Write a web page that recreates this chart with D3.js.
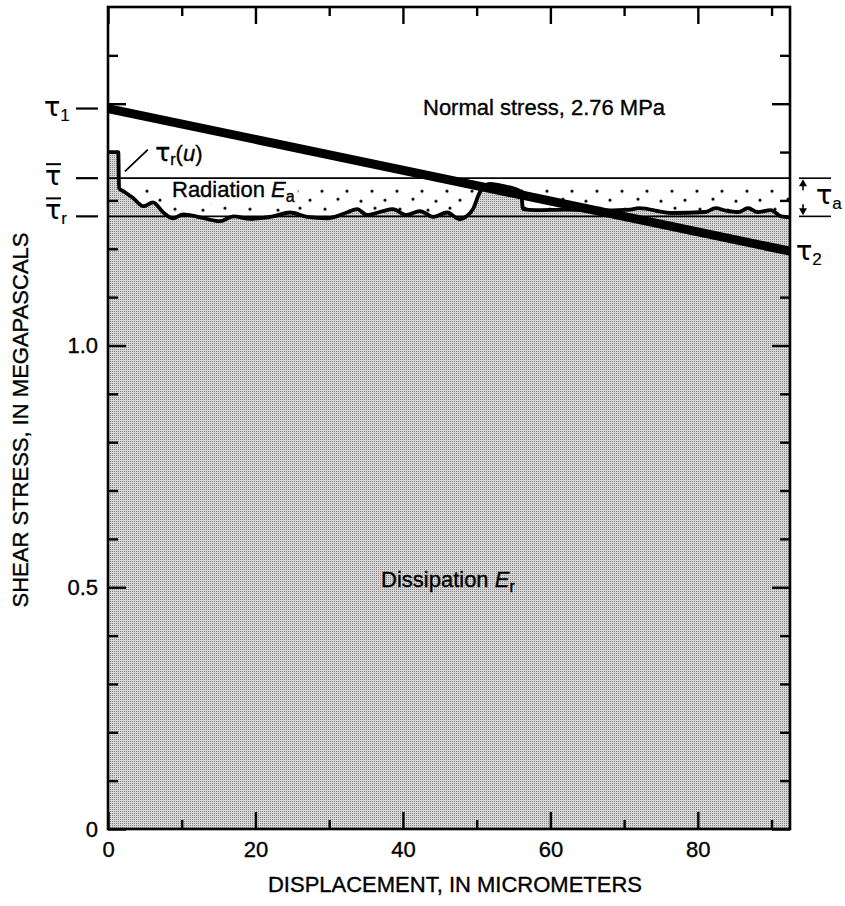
<!DOCTYPE html>
<html>
<head>
<meta charset="utf-8">
<script src="https://cdn.jsdelivr.net/npm/d3@7"></script>
<style>
  body { margin: 0; background: #fff; }
  text { font-family: "Liberation Sans", Arial, Helvetica, sans-serif; fill: #000; stroke: #000; stroke-width: 0.35px; }
  text.tau { font-family: "DejaVu Sans", sans-serif; stroke-width: 0.2px; }
</style>
</head>
<body>
<div id="chart"></div>
<script>
// Axis ticks
const xMajorTicks = [0, 20, 40, 60, 80];
const xMinorTicks = [10, 30, 50, 70, 90];
const yMajorTicks = [0, 0.5, 1.0, 1.5];
const yMinorTicks = [0.1, 0.2, 0.3, 0.4, 0.6, 0.7, 0.8, 0.9, 1.1, 1.2, 1.3, 1.4, 1.6];
const yLabelValues = [0, 0.5, 1.0];
const yLabelText = ["0", "0.5", "1.0"];
const xDomain = [0, 92.5];
const yDomain = [0, 1.70];

// Stress levels (MPa)
const tau1 = 1.49;
const tau2 = 1.195;
const tauBar = 1.346;
const tauBarR = 1.267;

// Normal-stress line (thick), endpoints
const normalX = [0, 92.5];
const normalY = [tau1, tau2];

// Frictional stress history tau_r(u)
const curveX = [0, 1.4, 1.5, 2.2, 3.4, 4.8, 6.1, 7.5, 8.8, 10.2, 12.5, 15.2, 17, 19.3, 22.4, 24.7, 27, 29.7,
  32.4, 33.8, 35.1, 37.3, 38.6, 40.5, 42.3, 44.1, 46, 47.7, 48.6, 49.5, 50.4, 51.8, 53.5, 56, 56.3,
  58, 62, 66, 70.8, 72, 76.5, 81, 82.4, 83.8, 85.5, 86.8, 88.1, 89.9, 91.3, 92.5];
const curveY = [1.40, 1.40, 1.325, 1.318, 1.305, 1.288, 1.296, 1.275, 1.263, 1.271, 1.265, 1.257, 1.267, 1.262,
  1.267, 1.275, 1.266, 1.263, 1.275, 1.282, 1.270, 1.278, 1.282, 1.270, 1.278, 1.266, 1.275, 1.261, 1.267,
  1.282, 1.316, 1.334, 1.330, 1.318, 1.282, 1.280, 1.281, 1.279, 1.281, 1.284, 1.274, 1.276, 1.284, 1.279,
  1.276, 1.284, 1.276, 1.280, 1.267, 1.265];

const margin = { top: 7, right: 55, bottom: 77, left: 108 };
const width = 845 - margin.left - margin.right;
const height = 906 - margin.top - margin.bottom;

const svg = d3.select("#chart").append("svg")
    .attr("width", 845)
    .attr("height", 906);

svg.append("rect").attr("width", 845).attr("height", 906).attr("fill", "#fff");

const defs = svg.append("defs");

// stipple texture for the dissipation area
const stip = defs.append("pattern")
    .attr("id", "stipple")
    .attr("patternUnits", "userSpaceOnUse")
    .attr("width", 2).attr("height", 2);
stip.append("rect").attr("width", 2).attr("height", 2).attr("fill", "#d8d8d8");
stip.append("rect").attr("width", 1).attr("height", 1).attr("fill", "#808080");

const g = svg.append("g")
    .attr("transform", `translate(${margin.left},${margin.top})`);

const x = d3.scaleLinear().domain(xDomain).range([0, width]);
const y = d3.scaleLinear().domain(yDomain).range([height, 0]);

// dots for the radiation band
const dotPat = defs.append("pattern")
    .attr("id", "dots")
    .attr("patternUnits", "userSpaceOnUse")
    .attr("x", margin.left).attr("y", margin.top + y(tauBar))
    .attr("width", 75).attr("height", 38);
[[6, 6], [31, 6], [56, 6], [19, 15], [47, 14], [70, 16], [34, 24], [62, 25], [9, 23]].forEach(p => {
  dotPat.append("circle").attr("cx", p[0]).attr("cy", p[1]).attr("r", 1.6).attr("fill", "#000");
});

g.append("rect")
    .attr("x", 0)
    .attr("y", y(tauBar))
    .attr("width", width)
    .attr("height", y(tauBarR) - y(tauBar))
    .attr("fill", "url(#dots)");

const curve = curveX.map((d, i) => ({ x: d, y: curveY[i] }));

// white patch behind the radiation label
const radBox = g.append("rect").attr("fill", "#fff");

// dissipation area under tau_r(u)
g.append("path")
    .datum(curve)
    .attr("fill", "url(#stipple)")
    .attr("d", d3.area().x(d => x(d.x)).y0(y(0)).y1(d => y(d.y)));

// level lines
[tauBar, tauBarR].forEach(v => {
  g.append("line")
      .attr("x1", 0).attr("x2", width)
      .attr("y1", y(v)).attr("y2", y(v))
      .attr("stroke", "#000").attr("stroke-width", 1.6);
});

// tau_r(u) curve
g.append("path")
    .datum(curve)
    .attr("fill", "none")
    .attr("stroke", "#000")
    .attr("stroke-width", 3.8)
    .attr("stroke-linejoin", "round")
    .attr("d", d3.line().x(d => x(d.x)).y(d => y(d.y)).curve(d3.curveMonotoneX));

// normal stress line
g.append("line")
    .attr("x1", x(normalX[0])).attr("y1", y(normalY[0]))
    .attr("x2", x(normalX[1])).attr("y2", y(normalY[1]))
    .attr("stroke", "#000").attr("stroke-width", 9);

// axes, ticks pointing inward on all four sides
function styleAxis(sel) {
  sel.select(".domain").remove();
  sel.selectAll(".tick line").attr("stroke", "#000").attr("stroke-width", 2.4);
  sel.selectAll(".tick text").style("font-size", "22px").attr("fill", "#000");
}

g.append("g").attr("transform", `translate(0,${height})`)
    .call(d3.axisBottom(x).tickValues(xMajorTicks).tickSize(-17).tickPadding(12).tickFormat(d3.format("d")))
    .call(styleAxis);
g.append("g").attr("transform", `translate(0,${height})`)
    .call(d3.axisBottom(x).tickValues(xMinorTicks).tickSize(-9).tickFormat(""))
    .call(styleAxis);
g.append("g")
    .call(d3.axisTop(x).tickValues(xMajorTicks).tickSize(-17).tickFormat(""))
    .call(styleAxis);
g.append("g")
    .call(d3.axisTop(x).tickValues(xMinorTicks).tickSize(-9).tickFormat(""))
    .call(styleAxis);

g.append("g")
    .call(d3.axisLeft(y).tickValues(yMajorTicks).tickSize(-18).tickPadding(10)
      .tickFormat(d => { const i = yLabelValues.indexOf(d); return i >= 0 ? yLabelText[i] : ""; }))
    .call(styleAxis);
g.append("g")
    .call(d3.axisLeft(y).tickValues(yMinorTicks).tickSize(-10).tickFormat(""))
    .call(styleAxis);
g.append("g").attr("transform", `translate(${width},0)`)
    .call(d3.axisRight(y).tickValues(yMajorTicks).tickSize(-18).tickFormat(""))
    .call(styleAxis);
g.append("g").attr("transform", `translate(${width},0)`)
    .call(d3.axisRight(y).tickValues(yMinorTicks).tickSize(-10).tickFormat(""))
    .call(styleAxis);

// frame
g.append("rect")
    .attr("width", width).attr("height", height)
    .attr("fill", "none").attr("stroke", "#000").attr("stroke-width", 2.6);

// axis titles
svg.append("text")
    .attr("x", 455).attr("y", 892)
    .attr("text-anchor", "middle")
    .style("font-size", "22px")
    .text("DISPLACEMENT, IN MICROMETERS");

svg.append("text")
    .attr("transform", "rotate(-90)")
    .attr("x", -420).attr("y", 28)
    .attr("text-anchor", "middle")
    .style("font-size", "22px")
    .text("SHEAR STRESS, IN MEGAPASCALS");

// level markers
function tauLabel(px, py, sub, bar) {
  const t = svg.append("text").attr("class", "tau").attr("x", px).attr("y", py).style("font-size", "27px");
  t.append("tspan").text("τ");
  if (sub) t.append("tspan").attr("dy", 5).style("font-family", "Liberation Sans, Arial, sans-serif")
      .style("font-size", "17px").text(sub);
  if (bar) {
    svg.append("line")
        .attr("x1", px + 1).attr("x2", px + 16)
        .attr("y1", py - 21).attr("y2", py - 21)
        .attr("stroke", "#000").attr("stroke-width", 2);
  }
}
[tau1, tauBar, tauBarR].forEach(v => {
  svg.append("line")
      .attr("x1", 76).attr("x2", 98)
      .attr("y1", margin.top + y(v)).attr("y2", margin.top + y(v))
      .attr("stroke", "#000").attr("stroke-width", 2.2);
});
tauLabel(44, margin.top + y(tau1) + 7, "1", false);
tauLabel(45, margin.top + y(tauBar) + 7, "", true);
tauLabel(45, margin.top + y(tauBarR) + 3, "r", true);

// right side: tau_2 and tau_a
tauLabel(796, margin.top + y(tau2) + 9, "2", false);

const xa = margin.left + width + 13;
const yTop = margin.top + y(tauBar);
const yBot = margin.top + y(tauBarR);
[yTop, yBot].forEach(v => {
  svg.append("line")
      .attr("x1", margin.left + width + 9).attr("x2", 831)
      .attr("y1", v).attr("y2", v)
      .attr("stroke", "#000").attr("stroke-width", 1.6);
});
svg.append("line").attr("x1", xa).attr("x2", xa).attr("y1", yTop + 4).attr("y2", yTop + 12)
    .attr("stroke", "#000").attr("stroke-width", 1.6);
svg.append("line").attr("x1", xa).attr("x2", xa).attr("y1", yBot - 12).attr("y2", yBot - 4)
    .attr("stroke", "#000").attr("stroke-width", 1.6);
svg.append("path").attr("d", `M${xa},${yTop + 1}L${xa - 4},${yTop + 8}L${xa + 4},${yTop + 8}Z`).attr("fill", "#000");
svg.append("path").attr("d", `M${xa},${yBot - 1}L${xa - 4},${yBot - 8}L${xa + 4},${yBot - 8}Z`).attr("fill", "#000");
tauLabel(816, (yTop + yBot) / 2 + 7, "a", false);

// annotations
g.append("text")
    .attr("x", 315).attr("y", 108)
    .style("font-size", "22px")
    .text("Normal stress, 2.76 MPa");

const rad = g.append("text")
    .attr("x", 64).attr("y", y(tauBar) + 19)
    .style("font-size", "22px");
rad.append("tspan").text("Radiation ");
rad.append("tspan").style("font-style", "italic").text("E");
rad.append("tspan").attr("dy", 5).style("font-size", "16px").text("a");
const bb = rad.node().getBBox();
radBox.attr("x", bb.x - 3).attr("y", bb.y + 2).attr("width", bb.width + 6).attr("height", bb.height - 4);

const dis = g.append("text")
    .attr("x", 273).attr("y", 580)
    .style("font-size", "22px");
dis.append("tspan").text("Dissipation ");
dis.append("tspan").style("font-style", "italic").text("E");
dis.append("tspan").attr("dy", 5).style("font-size", "16px").text("r");

// tau_r(u) leader and label
g.append("line")
    .attr("x1", x(2.3)).attr("y1", y(1.36))
    .attr("x2", x(5.4)).attr("y2", y(1.405))
    .attr("stroke", "#000").attr("stroke-width", 1.8);
const tr = g.append("text")
    .attr("x", x(6.4)).attr("y", y(1.385) + 2)
    .style("font-size", "22px");
tr.append("tspan").attr("class", "tau").style("font-family", "DejaVu Sans, sans-serif").style("font-size", "25px").text("τ");
tr.append("tspan").attr("dy", 4).style("font-size", "16px").text("r");
tr.append("tspan").attr("dy", -4).text("(");
tr.append("tspan").style("font-style", "italic").text("u");
tr.append("tspan").text(")");
</script>
</body>
</html>
